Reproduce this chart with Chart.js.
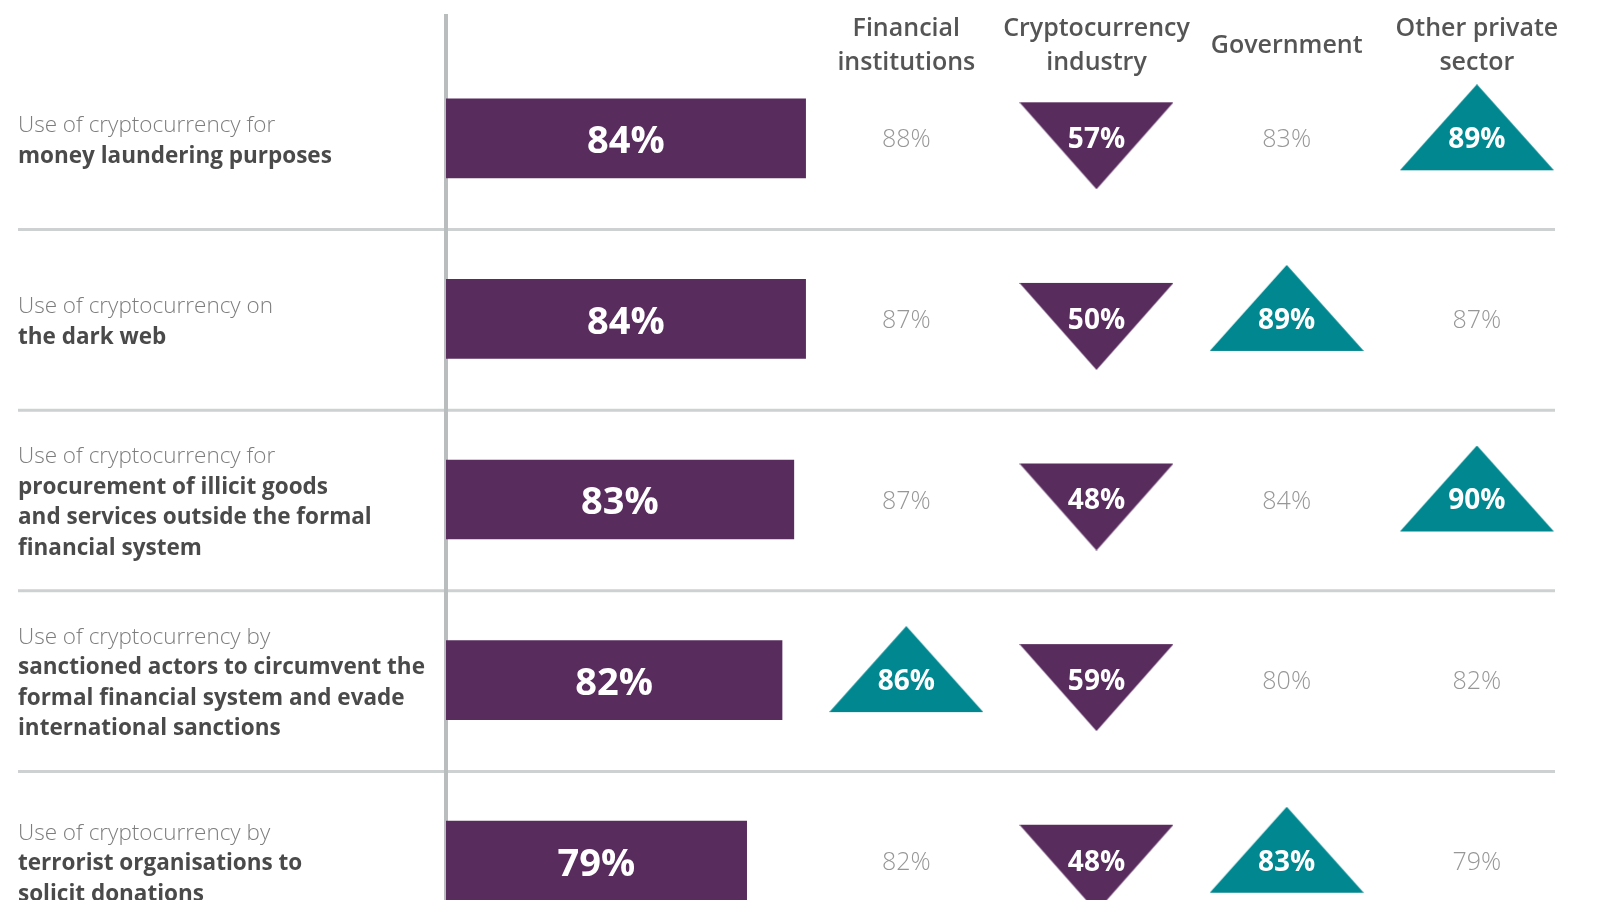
<!DOCTYPE html>
<html>
<head>
<meta charset="utf-8">
<script src="https://cdn.jsdelivr.net/npm/chart.js@4.4.1/dist/chart.umd.min.js"></script>
<style>
  html, body { margin: 0; padding: 0; background: #ffffff; overflow: hidden; }
  #wrap { width: 1600px; height: 960px; }
</style>
</head>
<body>
<div id="wrap"><canvas id="c" width="1600" height="960"></canvas></div>
<script>
// ---------------- DATA ----------------
const rowIntro = [
  'Use of cryptocurrency for',
  'Use of cryptocurrency on',
  'Use of cryptocurrency for',
  'Use of cryptocurrency by',
  'Use of cryptocurrency by'
];
const rowDetail = [
  ['money laundering purposes'],
  ['the dark web'],
  ['procurement of illicit goods', 'and services outside the formal', 'financial system'],
  ['sanctioned actors to circumvent the', 'formal financial system and evade', 'international sanctions'],
  ['terrorist organisations to', 'solicit donations']
];
const overall = [84, 84, 83, 82, 79];

const segmentHeaders = [
  ['Financial', 'institutions'],
  ['Cryptocurrency', 'industry'],
  ['Government'],
  ['Other private', 'sector']
];
const financialInstitutions = [88, 87, 87, 86, 82];
const cryptocurrencyIndustry = [57, 50, 48, 59, 48];
const government = [83, 89, 84, 80, 83];
const otherPrivateSector = [89, 87, 90, 82, 79];

// 'up' = notably higher than overall, 'down' = notably lower, '' = no marker
const financialFlags = ['', '', '', 'up', ''];
const cryptoFlags = ['down', 'down', 'down', 'down', 'down'];
const governmentFlags = ['', 'up', '', '', 'up'];
const otherFlags = ['up', '', 'up', '', ''];

// value axis range of the bars (axis starts at the vertical line)
const BAR_AXIS_MIN = 53.5;
const BAR_AXIS_MAX = 149;

// ---------------- STYLE ----------------
const PURPLE = '#592c5e';
const TEAL = '#00878f';
const FONT = '"Open Sans", "Noto Sans", sans-serif';

function makeTriangle(up, color) {
  const c = document.createElement('canvas');
  const w = 154;
  const above = up ? 54 : 36;
  const below = up ? 32 : 51;
  const h = 2 * Math.max(above, below);
  c.width = w; c.height = h;
  const g = c.getContext('2d');
  const cy = h / 2;
  g.fillStyle = color;
  g.beginPath();
  if (up) {
    g.moveTo(w / 2, cy - above);
    g.lineTo(w, cy + below);
    g.lineTo(0, cy + below);
  } else {
    g.moveTo(0, cy - above);
    g.lineTo(w, cy - above);
    g.lineTo(w / 2, cy + below);
  }
  g.closePath();
  g.fill();
  return c;
}
const upImg = makeTriangle(true, TEAL);
const downImg = makeTriangle(false, PURPLE);

const segValues = [financialInstitutions, cryptocurrencyIndustry, government, otherPrivateSector];
const segFlags = [financialFlags, cryptoFlags, governmentFlags, otherFlags];
const rowLabels = rowIntro.map((t, i) => t + ' ' + rowDetail[i].join(' '));

const segmentDatasets = segValues.map((vals, si) => ({
  type: 'scatter',
  label: segmentHeaders[si].join(' '),
  xAxisID: 'x2',
  yAxisID: 'y',
  data: vals.map((v, r) => ({ x: si, y: r, v: v, flag: segFlags[si][r] })),
  pointStyle: ctx => {
    const f = ctx.raw && ctx.raw.flag;
    return f === 'up' ? upImg : (f === 'down' ? downImg : 'circle');
  },
  pointRadius: ctx => (ctx.raw && ctx.raw.flag ? 1 : 0),
  pointHoverRadius: ctx => (ctx.raw && ctx.raw.flag ? 1 : 0),
  showLine: false,
  clip: false
}));

const decoPlugin = {
  id: 'deco',
  beforeDatasetsDraw(chart) {
    const ctx = chart.ctx;
    const ys = chart.scales.y;
    const xs = chart.scales.x;
    ctx.save();
    // row separators
    ctx.strokeStyle = '#cdd1d1';
    ctx.lineWidth = 3;
    for (let r = 0; r < rowLabels.length - 1; r++) {
      const py = (ys.getPixelForValue(r) + ys.getPixelForValue(r + 1)) / 2 + 1;
      ctx.beginPath();
      ctx.moveTo(18, py);
      ctx.lineTo(1555, py);
      ctx.stroke();
    }
    // vertical axis line
    ctx.strokeStyle = '#b9bdbd';
    ctx.lineWidth = 4;
    ctx.beginPath();
    ctx.moveTo(xs.left, 14);
    ctx.lineTo(xs.left, chart.height);
    ctx.stroke();
    ctx.restore();
  },
  afterDatasetsDraw(chart) {
    const ctx = chart.ctx;
    const ys = chart.scales.y;
    const x2 = chart.scales.x2;
    ctx.save();
    ctx.textBaseline = 'middle';

    // row labels
    const lineH = 30.6;
    rowLabels.forEach((_, r) => {
      const lines = [rowIntro[r]].concat(rowDetail[r]);
      const cy = ys.getPixelForValue(r) + 3;
      const start = cy - (lines.length - 1) * lineH / 2;
      ctx.textAlign = 'left';
      lines.forEach((ln, i) => {
        if (i === 0) {
          ctx.font = '300 22.5px ' + FONT;
          ctx.fillStyle = '#7d7d7d';
        } else {
          ctx.font = '700 22.5px ' + FONT;
          ctx.fillStyle = '#4a4a4a';
        }
        ctx.fillText(ln, 18, start + i * lineH);
      });
    });

    // column headers
    ctx.textAlign = 'center';
    ctx.font = '600 25px ' + FONT;
    ctx.fillStyle = '#555555';
    segmentHeaders.forEach((lines, i) => {
      const px = x2.getPixelForValue(i);
      const hH = 33.5;
      const start = 46 - (lines.length - 1) * hH / 2;
      lines.forEach((ln, k) => ctx.fillText(ln, px, start + k * hH));
    });

    // bar labels
    const barMeta = chart.getDatasetMeta(0);
    ctx.font = '700 38px ' + FONT;
    ctx.fillStyle = '#ffffff';
    barMeta.data.forEach((el, i) => {
      ctx.fillText(overall[i] + '%', (el.x + el.base) / 2, el.y + 4);
    });

    // segment values
    segmentDatasets.forEach((ds, di) => {
      const meta = chart.getDatasetMeta(di + 1);
      meta.data.forEach((el, r) => {
        const raw = ds.data[r];
        if (raw.flag) {
          ctx.font = '700 28px ' + FONT;
          ctx.fillStyle = '#ffffff';
        } else {
          ctx.font = '300 25px ' + FONT;
          ctx.fillStyle = '#979797';
        }
        ctx.fillText(raw.v + '%', el.x, el.y + 2);
      });
    });
    ctx.restore();
  }
};

new Chart(document.getElementById('c'), {
  type: 'bar',
  data: {
    labels: rowLabels,
    datasets: [
      {
        type: 'bar',
        label: 'All respondents',
        indexAxis: 'y',
        xAxisID: 'x',
        yAxisID: 'y',
        data: overall,
        base: BAR_AXIS_MIN,
        grouped: false,
        backgroundColor: PURPLE,
        borderWidth: 0,
        barThickness: 79,
        maxBarThickness: 79
      }
    ].concat(segmentDatasets)
  },
  options: {
    responsive: false,
    animation: false,
    events: [],
    devicePixelRatio: 1,
    layout: { padding: { left: 446, right: 28, top: 48, bottom: 9 } },
    plugins: { legend: { display: false }, tooltip: { enabled: false } },
    scales: {
      x: { type: 'linear', axis: 'x', position: 'bottom', min: BAR_AXIS_MIN, max: BAR_AXIS_MAX,
           offset: false, grid: { offset: false }, display: false },
      x2: { type: 'linear', axis: 'x', position: 'top', min: -2.42, max: 3.5,
            offset: false, grid: { offset: false }, display: false },
      y: { type: 'category', axis: 'y', labels: rowLabels, offset: true, display: false,
           grid: { offset: true } }
    }
  },
  plugins: [decoPlugin]
});
</script>
</body>
</html>
